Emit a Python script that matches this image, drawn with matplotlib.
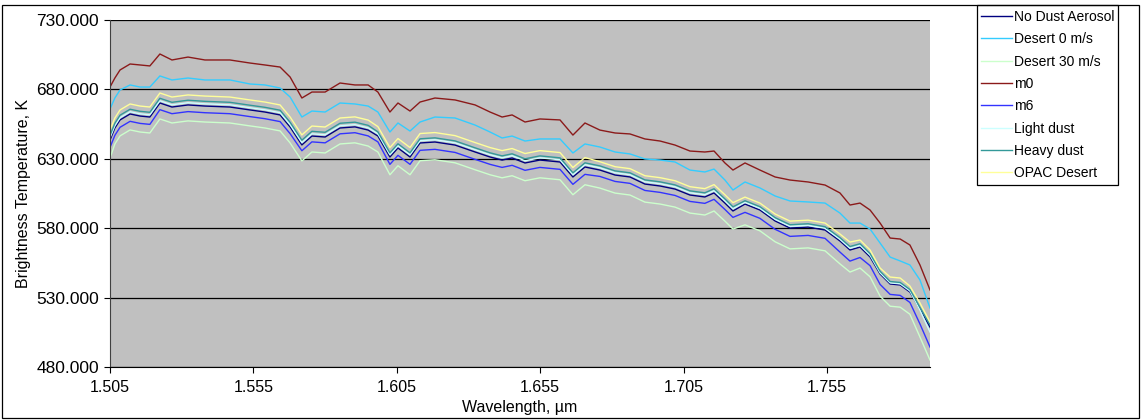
import numpy as np
import matplotlib.pyplot as plt
from matplotlib.patches import Rectangle
from matplotlib.ticker import FormatStrFormatter

plt.rcParams['font.family'] = ['Liberation Sans', 'DejaVu Sans']

# ---------- data ----------
wavelength = [
    1.5050, 1.5067, 1.5085, 1.5120, 1.5155, 1.5189, 1.5224, 1.5266, 1.5322, 1.5381,
    1.5468, 1.5538, 1.5590, 1.5643, 1.5678, 1.5719, 1.5754, 1.5800, 1.5852, 1.5904,
    1.5950, 1.5984, 1.6026, 1.6054, 1.6096, 1.6131, 1.6183, 1.6253, 1.6323, 1.6375,
    1.6417, 1.6452, 1.6497, 1.6549, 1.6619, 1.6664, 1.6706, 1.6758, 1.6811, 1.6863,
    1.6915, 1.6968, 1.7020, 1.7072, 1.7124, 1.7156, 1.7194, 1.7222, 1.7264, 1.7316,
    1.7369, 1.7421, 1.7484, 1.7543, 1.7595, 1.7630, 1.7665, 1.7700, 1.7735, 1.7770,
    1.7805, 1.7839, 1.7874, 1.7909,
]

no_dust = [
    643.5, 652.2, 658.0, 662.3, 660.8, 660.1, 670.2, 667.3, 668.8, 668.0,
    667.3, 665.2, 663.7, 661.6, 652.9, 640.0, 646.4, 645.7, 652.2, 653.0,
    650.7, 646.4, 631.3, 637.8, 631.3, 641.4, 642.1, 639.9, 634.9, 631.3,
    629.1, 630.6, 627.0, 629.1, 627.7, 616.9, 624.1, 621.9, 618.3, 616.9,
    611.8, 610.4, 608.2, 603.9, 602.5, 605.4, 598.1, 592.4, 597.4, 593.1,
    585.2, 580.1, 580.8, 578.7, 570.8, 564.3, 566.4, 559.3, 547.0, 539.8,
    539.1, 534.0, 521.8, 508.8,
]

desert_0 = [
    665.9, 673.8, 679.6, 683.2, 681.7, 681.7, 689.7, 686.8, 688.2, 686.8,
    686.8, 683.9, 683.2, 681.0, 674.5, 660.1, 664.4, 663.7, 670.2, 669.5,
    668.0, 663.7, 649.3, 655.8, 650.0, 656.5, 660.1, 659.4, 654.3, 649.3,
    645.0, 646.4, 642.8, 644.3, 644.3, 634.2, 640.7, 638.5, 634.9, 633.5,
    629.9, 629.1, 627.7, 621.9, 620.5, 622.6, 614.7, 607.5, 613.3, 609.0,
    603.2, 599.6, 598.9, 598.1, 590.9, 583.7, 583.7, 579.4, 569.3, 559.2,
    556.4, 553.5, 542.7, 522.5,
]

desert_30 = [
    630.5, 640.7, 646.5, 650.8, 649.3, 648.6, 658.7, 655.8, 657.3, 656.5,
    655.8, 653.7, 652.2, 650.1, 641.4, 628.5, 634.9, 634.2, 640.7, 641.5,
    639.2, 634.9, 618.5, 625.0, 618.5, 628.6, 629.3, 627.1, 622.1, 618.5,
    616.3, 617.8, 614.2, 616.3, 614.9, 604.1, 611.3, 608.9, 605.3, 603.9,
    598.8, 597.4, 595.2, 590.9, 589.5, 592.4, 585.1, 579.4, 582.4, 578.1,
    570.2, 565.1, 565.8, 563.7, 554.3, 548.4, 551.3, 545.0, 531.0, 523.8,
    523.1, 518.0, 501.6, 485.0,
]

m0 = [
    681.7, 688.2, 694.0, 698.3, 697.6, 696.9, 705.5, 701.2, 703.3, 701.2,
    701.2, 699.0, 697.6, 696.1, 688.9, 673.8, 678.1, 678.1, 684.6, 683.2,
    683.2, 678.1, 663.7, 670.2, 664.4, 670.9, 673.8, 672.4, 668.8, 663.7,
    660.1, 661.6, 656.5, 658.7, 658.0, 647.1, 655.8, 650.7, 648.6, 647.9,
    644.3, 642.8, 639.9, 635.6, 634.9, 635.6, 627.0, 621.9, 627.0, 621.9,
    616.9, 614.7, 613.3, 611.1, 605.4, 596.7, 598.1, 593.1, 583.7, 572.9,
    572.2, 567.9, 553.5, 535.5,
]

m6 = [
    638.2, 646.9, 652.7, 657.0, 655.5, 654.8, 665.4, 662.5, 664.0, 663.2,
    662.5, 660.4, 658.9, 656.8, 648.1, 635.8, 642.2, 641.5, 648.0, 648.8,
    646.5, 642.2, 626.0, 632.5, 626.0, 636.1, 636.8, 634.6, 629.6, 626.0,
    623.8, 625.3, 621.7, 623.8, 622.4, 611.6, 618.8, 617.3, 613.7, 612.3,
    607.2, 605.8, 603.6, 599.3, 597.9, 600.8, 593.5, 587.8, 591.4, 587.1,
    579.2, 574.1, 574.8, 572.7, 562.8, 556.3, 558.9, 553.0, 539.5, 532.3,
    531.6, 526.5, 511.0, 494.4,
]

light_dust = [
    645.1, 653.8, 659.6, 663.9, 662.4, 661.7, 671.8, 668.9, 670.4, 669.6,
    668.9, 666.8, 665.3, 663.2, 654.5, 641.6, 648.0, 647.3, 653.8, 654.6,
    652.3, 648.0, 632.9, 639.4, 632.9, 643.0, 643.7, 641.5, 636.5, 632.9,
    630.7, 632.2, 628.6, 630.7, 629.3, 618.5, 625.7, 623.5, 619.9, 618.5,
    613.4, 612.0, 609.8, 605.5, 604.1, 607.0, 599.7, 594.0, 598.6, 594.3,
    586.4, 581.3, 582.0, 579.9, 572.0, 565.5, 567.6, 560.5, 547.8, 540.6,
    539.9, 534.8, 521.0, 505.2,
]

heavy_dust = [
    646.9, 655.6, 661.4, 665.7, 664.2, 663.5, 673.6, 670.7, 672.2, 671.4,
    670.7, 668.6, 667.1, 665.0, 656.3, 643.4, 649.8, 649.1, 655.6, 656.4,
    654.1, 649.4, 634.3, 640.8, 634.3, 644.4, 645.1, 642.9, 637.9, 634.3,
    632.1, 633.6, 630.0, 632.1, 630.7, 619.9, 627.1, 624.9, 621.3, 619.9,
    614.8, 613.4, 611.2, 606.9, 605.5, 608.4, 601.1, 595.4, 599.8, 595.5,
    587.6, 582.5, 583.2, 581.1, 573.2, 566.8, 568.8, 561.7, 549.0, 541.6,
    540.9, 535.8, 523.0, 510.3,
]

opac_desert = [
    650.7, 659.4, 665.2, 669.5, 668.0, 667.3, 677.4, 674.5, 676.0, 675.2,
    674.5, 672.4, 670.9, 668.8, 660.1, 647.2, 653.6, 652.9, 659.4, 660.2,
    657.9, 653.2, 638.1, 644.6, 638.1, 648.2, 648.9, 646.7, 641.7, 638.1,
    635.9, 637.4, 633.8, 635.9, 634.5, 623.7, 630.9, 627.9, 624.3, 622.9,
    617.8, 616.4, 614.2, 609.9, 608.5, 611.4, 604.1, 598.4, 602.4, 598.1,
    590.2, 585.1, 585.8, 583.7, 575.8, 570.0, 571.5, 564.3, 551.3, 544.8,
    544.1, 538.3, 526.1, 512.4,
]

series = [
    ("No Dust Aerosol", no_dust, "#000080"),
    ("Desert 0 m/s", desert_0, "#33CCFF"),
    ("Desert 30 m/s", desert_30, "#CCFFCC"),
    ("m0", m0, "#8B1A1A"),
    ("m6", m6, "#3333FF"),
    ("Light dust", light_dust, "#CCFFFF"),
    ("Heavy dust", heavy_dust, "#339999"),
    ("OPAC Desert", opac_desert, "#FFFF99"),
]

y_ticks = [480, 530, 580, 630, 680, 730]
x_ticks = [1.505, 1.555, 1.605, 1.655, 1.705, 1.755]

# ---------- plot ----------
fig = plt.figure(figsize=(11.41, 4.20), dpi=100)
ax = fig.add_axes([110 / 1141, 1 - 367 / 420, 820 / 1141, 347 / 420])
ax.set_facecolor("#C0C0C0")

lines = []
for name, vals, col in series:
    ln, = ax.plot(wavelength, vals, color=col, linewidth=1.0, label=name,
                  solid_joinstyle="round")
    lines.append(ln)

ax.set_xlim(1.505, 1.7909)
ax.set_ylim(480, 730)
ax.set_yticks(y_ticks)
ax.set_xticks(x_ticks)
ax.yaxis.set_major_formatter(FormatStrFormatter("%.3f"))
ax.xaxis.set_major_formatter(FormatStrFormatter("%.3f"))
ax.grid(axis="y", color="black", linewidth=0.9)
ax.set_axisbelow(True)
ax.tick_params(direction="out", length=4, colors="black")
ax.tick_params(axis="y", labelsize=12.5, pad=4)
ax.tick_params(axis="x", labelsize=11.5, pad=5)
for s in ["top", "right"]:
    ax.spines[s].set_visible(False)
ax.spines["left"].set_color("#404040")
ax.spines["bottom"].set_color("black")

ax.set_ylabel("Brightness Temperature, K", fontsize=11.5, labelpad=4)
ax.set_xlabel("Wavelength, µm", fontsize=11.5, labelpad=4)

# legend box drawn separately (tight like the original), entries on top
fig.patches.append(Rectangle((977 / 1141, 1 - 185 / 420), 141 / 1141, 180 / 420,
                             transform=fig.transFigure, fill=True, facecolor="white",
                             edgecolor="black", linewidth=0.9, zorder=0))
leg = fig.legend(lines, [n for n, _, _ in series],
                 loc="upper left", bbox_to_anchor=(981 / 1141, 1 - 10 / 420),
                 fontsize=10, frameon=False, borderpad=0, labelspacing=0.6,
                 handlelength=2.2, handletextpad=0.15, borderaxespad=0)
leg.set_zorder(10)

# outer chart border
fig.patches.append(Rectangle((2 / 1141, 2 / 420), 1137 / 1141, 413 / 420,
                             transform=fig.transFigure, fill=False,
                             edgecolor="black", linewidth=0.9))

fig.savefig("out.png", dpi=100)
